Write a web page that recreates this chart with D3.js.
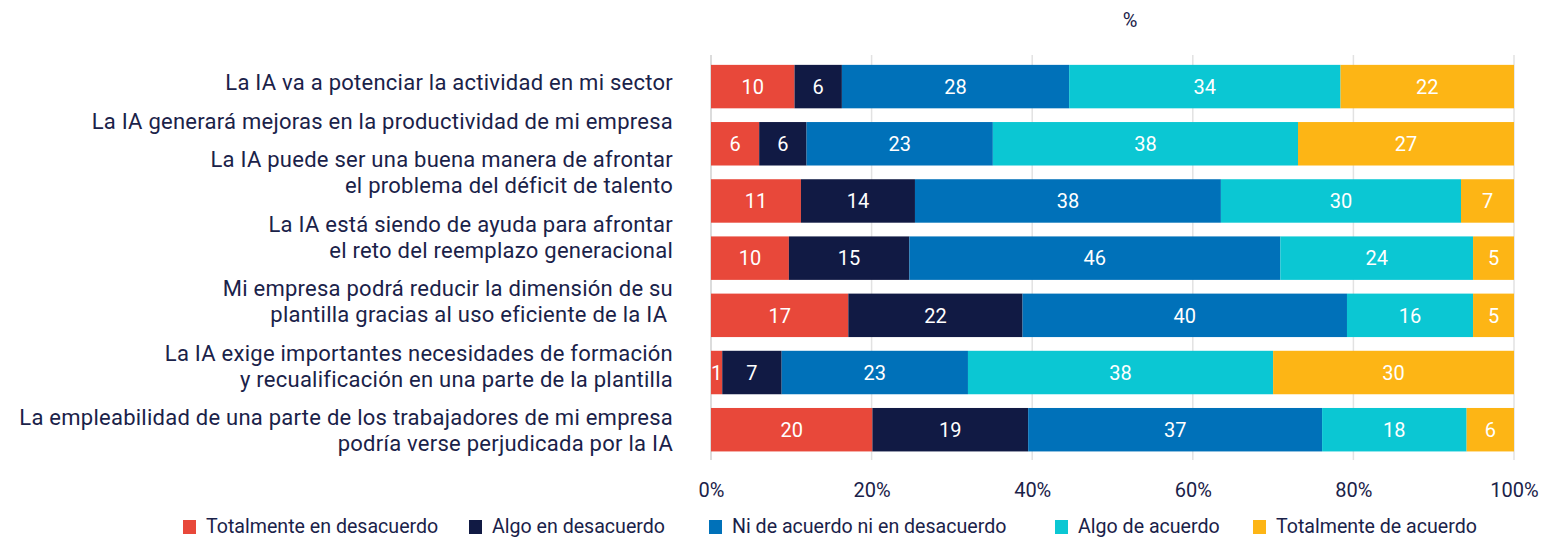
<!DOCTYPE html>
<html>
<head>
<meta charset="utf-8">
<script src="https://cdn.jsdelivr.net/npm/d3@7"></script>
<style>
  body { margin: 0; background: #fff; }
  text { font-family: Roboto, "Noto Sans", sans-serif; }
</style>
</head>
<body>
<div id="chart"></div>
<script>
const WIDTH = 1564, HEIGHT = 538;

// statements (each entry = lines of the label)
const statements = [
  ["La IA va a potenciar la actividad en mi sector"],
  ["La IA generará mejoras en la productividad de mi empresa"],
  ["La IA puede ser una buena manera de afrontar", "el problema del déficit de talento"],
  ["La IA está siendo de ayuda para afrontar", "el reto del reemplazo generacional"],
  ["Mi empresa podrá reducir la dimensión de su", "plantilla gracias al uso eficiente de la IA "],
  ["La IA exige importantes necesidades de formación", "y recualificación en una parte de la plantilla"],
  ["La empleabilidad de una parte de los trabajadores de mi empresa", "podría verse perjudicada por la IA"]
];
const answers = ["Totalmente en desacuerdo", "Algo en desacuerdo", "Ni de acuerdo ni en desacuerdo", "Algo de acuerdo", "Totalmente de acuerdo"];
const colors = ["#e8483a", "#111a44", "#0071b9", "#0bc7d3", "#fdb515"];

// % per answer, one array per answer (row order = statements)
const totDesacuerdo  = [10.4, 6.0, 11.2, 9.7, 17.1, 1.4, 20.1];
const algoDesacuerdo = [5.9, 5.9, 14.2, 15.0, 21.7, 7.4, 19.4];
const neutral        = [28.3, 23.2, 38.1, 46.2, 40.4, 23.2, 36.6];
const algoAcuerdo    = [33.8, 38.0, 29.9, 24.0, 15.7, 38.0, 18.0];
const totAcuerdo     = [21.6, 26.9, 6.6, 5.1, 5.1, 30.0, 5.9];
const xTicks = [0, 20, 40, 60, 80, 100];

const series = [totDesacuerdo, algoDesacuerdo, neutral, algoAcuerdo, totAcuerdo];
const rows = statements.map((s, i) => {
  const r = { key: i };
  answers.forEach((a, j) => r[a] = series[j][i]);
  return r;
});

const TXT = "#1a2249";
const svg = d3.select("#chart").append("svg").attr("width", WIDTH).attr("height", HEIGHT);

const x = d3.scaleLinear().domain([0, 100]).range([711, 1514]);
const y = d3.scaleBand().domain(d3.range(statements.length))
  .range([58, 458.3]).paddingInner(0.24).paddingOuter(0.12);

// grid
svg.append("g").selectAll("line").data(xTicks).join("line")
  .attr("x1", d => x(d)).attr("x2", d => x(d))
  .attr("y1", 55).attr("y2", 460)
  .attr("stroke", d => d === 0 ? "#d0d0d0" : "#e2e2e2").attr("stroke-width", 1.5);

const stack = d3.stack().keys(answers)(rows);

const layer = svg.append("g").selectAll("g").data(stack).join("g")
  .attr("fill", (d, i) => colors[i]);
layer.selectAll("rect").data(d => d).join("rect")
  .attr("x", d => x(d[0]))
  .attr("width", d => x(d[1]) - x(d[0]))
  .attr("y", (d, i) => y(i))
  .attr("height", y.bandwidth());

layer.selectAll("text").data(d => d).join("text")
  .attr("x", d => (x(d[0]) + x(d[1])) / 2)
  .attr("y", (d, i) => y(i) + y.bandwidth() / 2)
  .attr("dy", "0.36em")
  .attr("text-anchor", "middle")
  .attr("fill", "#fff")
  .attr("font-size", 20)
  .text(d => Math.round(d[1] - d[0]));

// x axis labels
const xAxis = svg.append("g").attr("transform", "translate(0,497)")
  .call(d3.axisBottom(x).tickValues(xTicks).tickFormat(d => d + "%").tickSize(0).tickPadding(0));
xAxis.select(".domain").remove();
xAxis.selectAll("text").attr("fill", TXT).attr("font-size", 20).attr("dy", 0)
  .style("font-family", "Roboto, sans-serif");

svg.append("text").attr("x", 1130).attr("y", 27).attr("text-anchor", "middle")
  .attr("fill", TXT).attr("font-size", 20).text("%");

// statement labels laid out as a text column
const LINE = 26, GAP = 12.5;
let base = 90;
const lab = svg.append("g").attr("fill", TXT).attr("font-size", 22)
  .attr("letter-spacing", 0.25).attr("text-anchor", "end");
statements.forEach(lines => {
  lines.forEach((t, k) => {
    lab.append("text").attr("x", 673).attr("y", base + k * LINE).style("white-space", "pre").text(t);
  });
  base += (lines.length - 1) * LINE + LINE + GAP;
});

// legend
const legX = [183, 469, 709, 1055, 1253];
const leg = svg.append("g");
answers.forEach((a, i) => {
  leg.append("rect").attr("x", legX[i]).attr("y", 520).attr("width", 13).attr("height", 14).attr("fill", colors[i]);
  leg.append("text").attr("x", legX[i] + 23).attr("y", 533)
    .attr("fill", TXT).attr("font-size", 19.6).text(a);
});
</script>
</body>
</html>
